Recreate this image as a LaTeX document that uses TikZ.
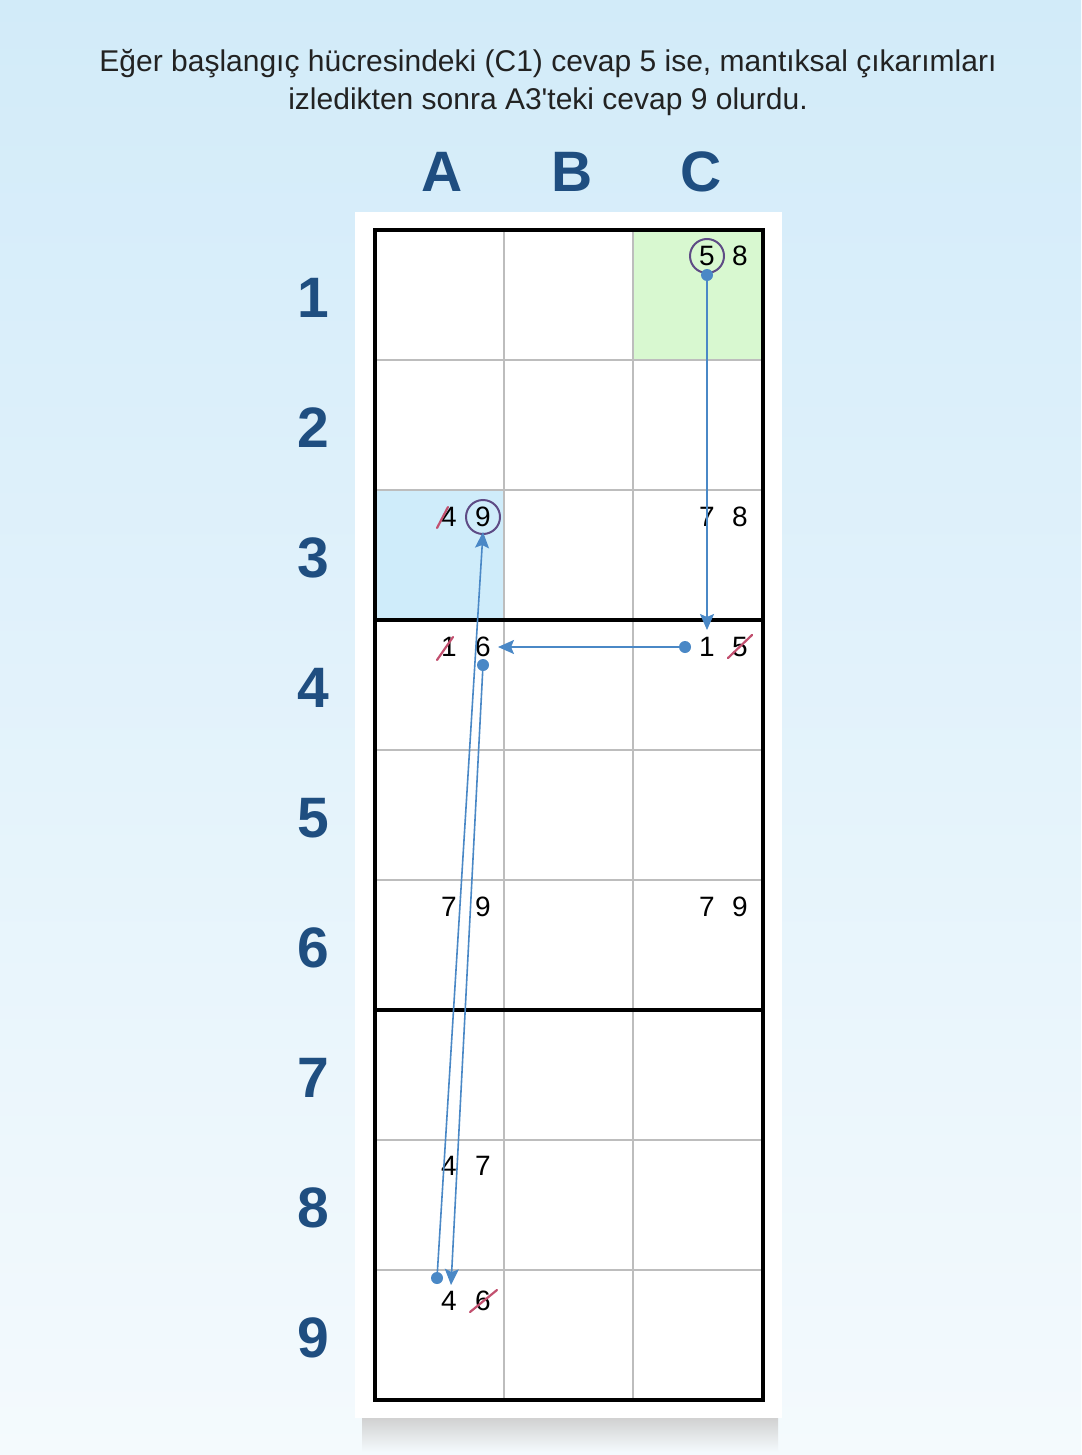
\documentclass[tikz,border=0pt]{standalone}
\usepackage{fontspec}
\setmainfont{Liberation Sans}
\usetikzlibrary{arrows.meta}
\definecolor{bgtop}{HTML}{D2EBF9}
\definecolor{bgbot}{HTML}{F4FAFD}
\definecolor{labblue}{HTML}{1F4E80}
\definecolor{arrblue}{HTML}{4A88C6}
\definecolor{ringpurple}{HTML}{5E4B85}
\definecolor{strikered}{HTML}{C2506F}
\definecolor{gridgray}{HTML}{BDBDBD}
\definecolor{cellgreen}{HTML}{D8F8D0}
\definecolor{cellblue}{HTML}{CFECFA}
\definecolor{titlegray}{HTML}{222222}
\begin{document}
\begin{tikzpicture}[x=1pt,y=-1pt,
  cand/.style={font=\fontsize{28}{28}\selectfont, inner sep=0pt, text=black},
  collab/.style={font=\fontsize{57}{57}\selectfont\bfseries, text=labblue, inner sep=0pt, anchor=base},
  titletext/.style={font=\fontsize{30}{30}\selectfont, text=titlegray, inner sep=0pt, anchor=base},
  thin grid/.style={draw=gridgray, line width=1.5pt},
  thick grid/.style={draw=black, line width=3.5pt},
  ringmark/.style={draw=ringpurple, line width=2pt},
  strikemark/.style={draw=strikered, line width=2.2pt, line cap=round},
  conn/.style={draw=arrblue, line width=1.6pt, -{Stealth[length=16pt,width=14pt,inset=3pt]}},
  dotmark/.style={fill=arrblue},
]
\useasboundingbox (0,0) rectangle (1081,1455);
% background
\shade[top color=bgtop, bottom color=bgbot] (0,0) rectangle (1081,1455);
% title
\node[titletext] (t1) at (548,72) {Eğer başlangıç hücresindeki (C1) cevap 5 ise, mantıksal çıkarımları};
\node[titletext] (t2) at (548,110) {izledikten sonra A3\textquotesingle teki cevap 9 olurdu.};
% column labels
\node[collab] (colA) at (442,192) {A};
\node[collab] (colB) at (572,192) {B};
\node[collab] (colC) at (701,192) {C};
% row labels
\foreach \r in {1,...,9}{
  \node[collab] (row\r) at (313,{317+130*(\r-1)}) {\r};
}
% panel shadow and panel
\shade[top color=black!18, bottom color=bgbot] (362,1418) rectangle (778,1452);
\fill[white] (355,212) rectangle (782,1418);
% highlighted cells
\fill[cellgreen] (633,230) rectangle (763,360);
\fill[cellblue] (375,490) rectangle (504,620);
% thin grid lines
\foreach \x in {504,633}{ \draw[thin grid] (\x,230) -- (\x,1400); }
\foreach \y in {360,490,750,880,1140,1270}{ \draw[thin grid] (375,\y) -- (763,\y); }
% thick lines
\foreach \y in {620,1010}{ \draw[thick grid] (375,\y) -- (763,\y); }
\draw[thick grid] (375,230) rectangle (763,1400);
% candidates
\node[cand] (c1a) at (707,256) {5};
\node[cand] (c1b) at (740,256) {8};
\node[cand] (a3a) at (449,517) {4};
\node[cand] (a3b) at (483,517) {9};
\node[cand] (c3a) at (707,517) {7};
\node[cand] (c3b) at (740,517) {8};
\node[cand] (a4a) at (449,647) {1};
\node[cand] (a4b) at (483,647) {6};
\node[cand] (c4a) at (707,647) {1};
\node[cand] (c4b) at (740,647) {5};
\node[cand] (a6a) at (449,907) {7};
\node[cand] (a6b) at (483,907) {9};
\node[cand] (c6a) at (707,907) {7};
\node[cand] (c6b) at (740,907) {9};
\node[cand] (a8a) at (449,1166) {4};
\node[cand] (a8b) at (483,1166) {7};
\node[cand] (a9a) at (449,1301) {4};
\node[cand] (a9b) at (483,1301) {6};
% rings
\draw[ringmark] (c1a) circle (17);
\draw[ringmark] (a3b) circle (17);
% strikes
\draw[strikemark] (437,528) -- (448,507);
\draw[strikemark] (437,660) -- (453,637);
\draw[strikemark] (728,658) -- (752,635);
\draw[strikemark] (470,1312) -- (497,1290);
% connectors
\coordinate (s1) at (707,275);  \coordinate (e1) at (707,630);
\coordinate (s2) at (685,647);  \coordinate (e2) at (498,647);
\coordinate (s3) at (483,665);  \coordinate (e3) at (451,1285);
\coordinate (s4) at (437,1278); \coordinate (e4) at (483,532);
\draw[conn] (s1) -- (e1);
\draw[conn] (s2) -- (e2);
\draw[conn] (s3) -- (e3);
\draw[conn] (s4) -- (e4);
\foreach \d in {s1,s2,s3,s4}{ \fill[dotmark] (\d) circle (6); }
\end{tikzpicture}
\end{document}
